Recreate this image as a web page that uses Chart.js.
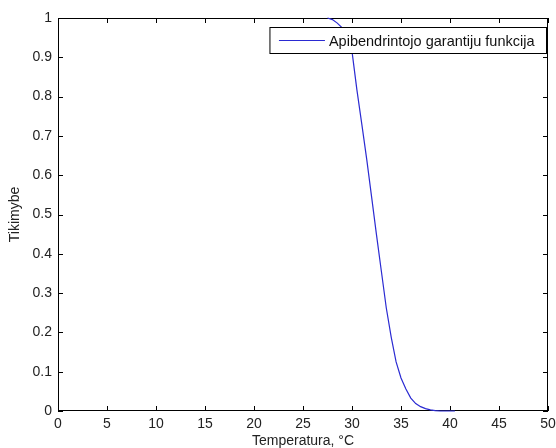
<!DOCTYPE html>
<html>
<head>
<meta charset="utf-8">
<script src="https://cdn.jsdelivr.net/npm/chart.js@4/dist/chart.umd.min.js"></script>
<style>
  html, body { margin: 0; padding: 0; background: #fff; }
  canvas { display: block; }
</style>
</head>
<body>
<canvas id="chart" width="556" height="448"></canvas>
<script>
// values
const temperatures = [27.5, 28, 28.5, 29, 29.5, 30, 30.5, 31, 31.5, 32, 32.5, 33, 33.5, 34, 34.5, 35, 35.5, 36, 36.5, 37, 37.5, 38, 38.5, 39, 39.5, 40, 40.5]
const probability = [1, 0.996, 0.987, 0.975, 0.955, 0.915, 0.817, 0.73, 0.641, 0.545, 0.448, 0.355, 0.262, 0.188, 0.125, 0.084, 0.056, 0.033, 0.019, 0.011, 0.006, 0.003, 0.001, 0, 0, 0, 0]
const xTicks = [0, 5, 10, 15, 20, 25, 30, 35, 40, 45, 50]
const yTickLabels = ['0', '0.1', '0.2', '0.3', '0.4', '0.5', '0.6', '0.7', '0.8', '0.9', '1']
const seriesName = 'Apibendrintojo garantiju funkcija'
const xTitle = 'Temperatura, °C'
const yTitle = 'Tikimybe'

const fontFamily = 'Arial, "Liberation Sans", Helvetica, sans-serif'
const lineColor = '#2a2ad2'

// matlab style frame: box on all sides with inward ticks
const framePlugin = {
    id: 'frame',
    beforeDatasetsDraw(chart) {
        const ctx = chart.ctx
        const a = chart.chartArea
        const xs = chart.scales.x
        const ys = chart.scales.y
        const len = 5
        ctx.save()
        ctx.strokeStyle = '#000'
        ctx.lineWidth = 1
        ctx.beginPath()
        xs.ticks.forEach(t => {
            const px = Math.round(xs.getPixelForValue(t.value)) + 0.5
            ctx.moveTo(px, a.bottom)
            ctx.lineTo(px, a.bottom - len)
            ctx.moveTo(px, a.top)
            ctx.lineTo(px, a.top + len)
        })
        ys.ticks.forEach(t => {
            const py = Math.round(ys.getPixelForValue(t.value)) + 0.5
            ctx.moveTo(a.left, py)
            ctx.lineTo(a.left + len, py)
            ctx.moveTo(a.right, py)
            ctx.lineTo(a.right - len, py)
        })
        ctx.stroke()
        ctx.strokeRect(Math.round(a.left) + 0.5, Math.round(a.top) + 0.5, Math.round(a.right - a.left) - 1, Math.round(a.bottom - a.top) - 1)
        ctx.restore()
    },
    afterDatasetsDraw(chart) {
        // legend box
        const ctx = chart.ctx
        const a = chart.chartArea
        ctx.save()
        ctx.lineWidth = 1
        ctx.font = '14.5px ' + fontFamily
        const label = chart.data.datasets[0].label
        const tw = ctx.measureText(label).width
        const h = 26
        const w = tw + 71
        const right = Math.round(a.right) - 1.5
        const top = Math.round(a.top) + 9.5
        const left = right - w
        ctx.fillStyle = '#fff'
        ctx.fillRect(left, top, w, h)
        ctx.strokeStyle = '#000'
        ctx.strokeRect(left, top, w, h)
        ctx.strokeStyle = lineColor
        ctx.beginPath()
        ctx.moveTo(left + 9, top + h / 2)
        ctx.lineTo(left + 55, top + h / 2)
        ctx.stroke()
        ctx.fillStyle = '#111'
        ctx.textBaseline = 'middle'
        ctx.fillText(label, left + 59, top + h / 2 + 1)
        ctx.restore()
    }
}

new Chart('chart', {
    type: 'line',
    data: {
        datasets: [{
            label: seriesName,
            data: temperatures.map((t, i) => ({ x: t, y: probability[i] })),
            borderColor: lineColor,
            borderWidth: 1.2,
            pointRadius: 0,
            tension: 0,
            fill: false,
            clip: 2
        }]
    },
    options: {
        responsive: false,
        animation: false,
        layout: { padding: { top: 18, right: 8, left: 0, bottom: 0 } },
        plugins: {
            legend: { display: false },
            tooltip: { enabled: false }
        },
        scales: {
            x: {
                type: 'linear',
                min: 0,
                max: 50,
                afterBuildTicks: s => { s.ticks = xTicks.map(v => ({ value: v })) },
                afterFit: s => { s.height = 37; s.paddingLeft = 0; s.paddingRight = 0 },
                grid: { display: false, drawTicks: false },
                border: { display: false },
                ticks: {
                    padding: 5,
                    color: '#222',
                    maxRotation: 0,
                    autoSkip: false,
                    font: { family: fontFamily, size: 14 },
                    callback: v => String(v)
                },
                title: {
                    display: true,
                    text: xTitle,
                    color: '#222',
                    padding: { top: 0, bottom: 0 },
                    font: { family: fontFamily, size: 14, lineHeight: 1 }
                }
            },
            y: {
                type: 'linear',
                min: 0,
                max: 1,
                afterBuildTicks: s => { s.ticks = yTickLabels.map(l => ({ value: parseFloat(l) })) },
                afterFit: s => { s.width = 58; s.paddingTop = 0; s.paddingBottom = 0 },
                grid: { display: false, drawTicks: false },
                border: { display: false },
                ticks: {
                    padding: 6,
                    color: '#222',
                    autoSkip: false,
                    font: { family: fontFamily, size: 14 },
                    callback: (v, i) => yTickLabels[i]
                },
                title: {
                    display: true,
                    text: yTitle,
                    color: '#222',
                    padding: { top: 8, bottom: 0 },
                    font: { family: fontFamily, size: 14, lineHeight: 1 }
                }
            }
        }
    },
    plugins: [framePlugin]
})
</script>
</body>
</html>
